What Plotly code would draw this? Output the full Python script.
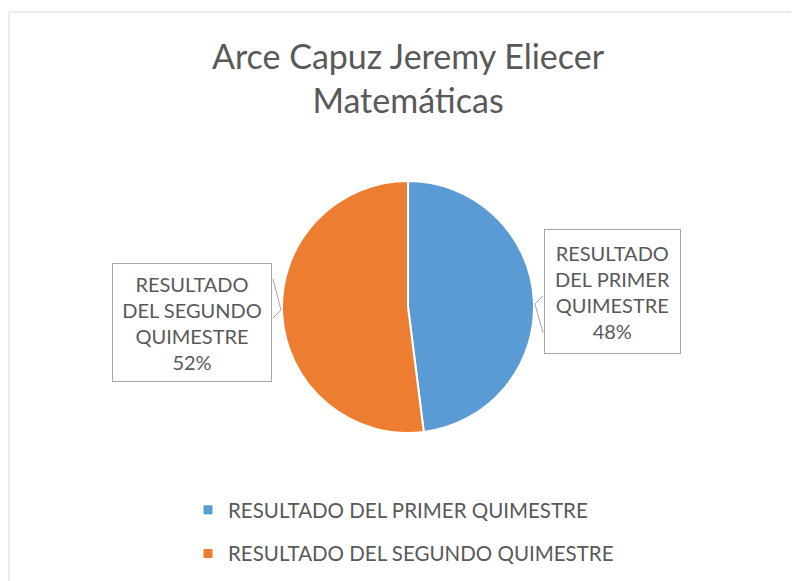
import plotly.graph_objects as go

# ---- data ----
title_lines = ["Arce Capuz Jeremy Eliecer", "Matemáticas"]
labels = ["RESULTADO DEL PRIMER QUIMESTRE", "RESULTADO DEL SEGUNDO QUIMESTRE"]
values = [48, 52]
colors = ["#5B9BD5", "#ED7D31"]

W, H = 799, 581
OFF = 8  # page body margin
FONT = "Lato"
TXT = "#595959"

def px(x):
    return (x - OFF) / W

def py(y):
    return 1 - (y - OFF) / H

fig = go.Figure()

# pie centred at (408,307) radius ~126
cx, cy, r = 408, 307, 126
fig.add_trace(go.Pie(
    labels=labels, values=values,
    marker=dict(colors=colors, line=dict(color="white", width=2)),
    sort=False, direction="clockwise", rotation=0,
    textinfo="none", hoverinfo="label+percent",
    showlegend=False,
    domain=dict(x=[px(cx - 200), px(cx + 200)], y=[py(cy + r), py(cy - r)]),
))

# legend proxies (one legend group each so spacing can be set)
for lab, col in zip(labels, colors):
    fig.add_trace(go.Scatter(
        x=[None], y=[None], mode="markers", name=lab, legendgroup=lab,
        marker=dict(symbol="square", size=9, color=col),
    ))

total = sum(values)

def label_text(lab, v):
    w = lab.split()
    lines = [w[0], " ".join(w[1:3]), " ".join(w[3:]), f"{round(v / total * 100)}%"]
    return "<br>".join(lines)

# data label boxes
box_specs = [
    dict(cx=612, cy=291, w=137, h=125),
    dict(cx=192, cy=322, w=160, h=119),
]
annotations = []
for lab, v, b in zip(labels, values, box_specs):
    annotations.append(dict(
        x=px(b["cx"]), y=py(b["cy"]), xref="paper", yref="paper",
        text=label_text(lab, v), showarrow=False, align="center",
        font=dict(family=FONT, size=20, color=TXT),
        width=b["w"] - 2, height=b["h"] - 2, borderpad=0,
        bordercolor="#A6A6A6", borderwidth=1, bgcolor="white",
        xanchor="center", yanchor="middle", valign="middle",
    ))

shapes = [
    # chart border (extends beyond the picture on right/bottom)
    dict(type="rect", xref="paper", yref="paper",
         x0=px(9), x1=1.05, y0=-0.05, y1=py(12),
         line=dict(color="#D9D9D9", width=1), fillcolor="rgba(0,0,0,0)", layer="below"),
    # callout pointers
    dict(type="path", xref="paper", yref="paper",
         path=f"M {px(543)} {py(296)} L {px(535)} {py(304)} L {px(543)} {py(333)}",
         line=dict(color="#A6A6A6", width=1)),
    dict(type="path", xref="paper", yref="paper",
         path=f"M {px(273)} {py(279)} L {px(281)} {py(310)} L {px(273)} {py(318)}",
         line=dict(color="#A6A6A6", width=1)),
]

fig.update_layout(
    width=W, height=H,
    margin=dict(l=0, r=0, t=0, b=0),
    paper_bgcolor="white", plot_bgcolor="white",
    title=dict(text="<br>".join(title_lines), x=px(408), xanchor="center",
               y=py(69), yanchor="top",
               font=dict(family=FONT, size=34, color=TXT)),
    xaxis=dict(visible=False), yaxis=dict(visible=False),
    showlegend=True,
    legend=dict(x=px(188), xanchor="left", y=py(490), yanchor="top",
                orientation="v", tracegroupgap=14,
                font=dict(family=FONT, size=20.5, color=TXT),
                bgcolor="rgba(0,0,0,0)", borderwidth=0),
    annotations=annotations,
    shapes=shapes,
)

fig.write_html("out.html")
